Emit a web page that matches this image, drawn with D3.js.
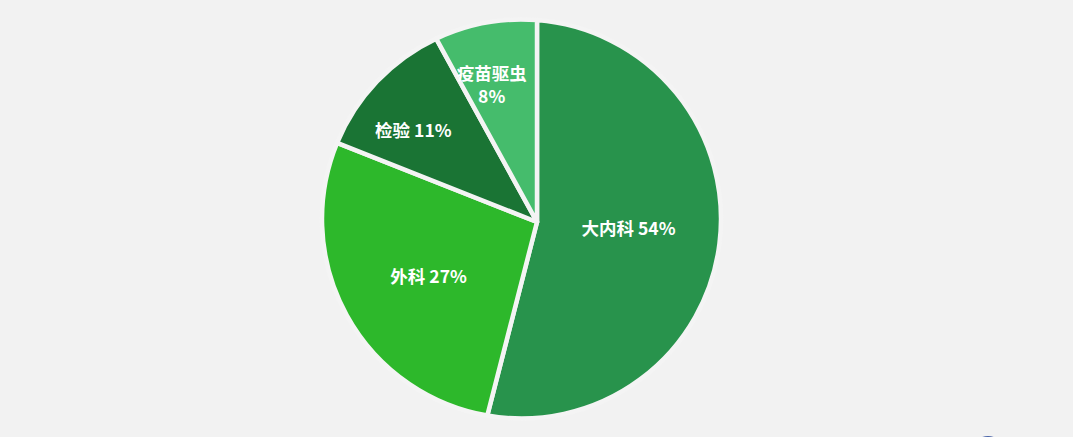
<!DOCTYPE html>
<html>
<head>
<meta charset="utf-8">
<script src="https://cdn.jsdelivr.net/npm/d3@7"></script>
<style>
  html, body { margin: 0; padding: 0; background: #f2f2f2; }
  svg { display: block; }
</style>
</head>
<body>
<svg width="1073" height="437"></svg>
<script>
// data
var categories = ['大内科', '外科', '检验', '疫苗驱虫'];
var shares = [54, 27, 11, 8];
var colors = ['#28934c', '#2db82b', '#1a7434', '#45bc6c'];

// layout: slices meet at the vertex, outer edge is a circle a bit to the left
var svg = d3.select('svg'),
  vertex = [537, 222],
  rim = { cx: 521.5, cy: 219, r: 199.5 },
  labelDist = [0.46, 0.61, 0.77, 0.72],
  labelTurn = [-3, 0, -5, -4]; // degrees

var pie = d3.pie().sort(null).value(function(d) { return d; });
var arcs = pie(shares);

// where a ray from the vertex at angle a (clockwise from top) meets the rim
function hit(a) {
  var dx = Math.sin(a), dy = -Math.cos(a);
  var ox = vertex[0] - rim.cx, oy = vertex[1] - rim.cy;
  var b = dx * ox + dy * oy;
  var c = ox * ox + oy * oy - rim.r * rim.r;
  var t = -b + Math.sqrt(b * b - c);
  return [vertex[0] + t * dx, vertex[1] + t * dy];
}

function rimAngle(p) {
  return Math.atan2(p[0] - rim.cx, -(p[1] - rim.cy));
}

function slicePath(d) {
  var p0 = hit(d.startAngle), p1 = hit(d.endAngle);
  var diff = (rimAngle(p1) - rimAngle(p0) + 4 * Math.PI) % (2 * Math.PI);
  return 'M' + vertex[0] + ',' + vertex[1] +
    'L' + p0[0] + ',' + p0[1] +
    'A' + rim.r + ',' + rim.r + ' 0 ' + (diff > Math.PI ? 1 : 0) + ' 1 ' + p1[0] + ',' + p1[1] +
    'Z';
}

svg.append('g')
  .selectAll('path')
  .data(arcs)
  .enter()
  .append('path')
  .attr('d', slicePath)
  .attr('fill', function(d, i) { return colors[i]; })
  .attr('stroke', '#f4f4f4')
  .attr('stroke-width', 4.5)
  .attr('stroke-linejoin', 'round');

var labels = svg.append('g')
  .attr('font-family', '"Noto Sans CJK SC", "Noto Sans", sans-serif')
  .attr('font-size', 17.5)
  .attr('font-weight', 'bold')
  .attr('fill', '#ffffff')
  .attr('text-anchor', 'middle')
  .selectAll('text')
  .data(arcs)
  .enter()
  .append('text')
  .attr('transform', function(d, i) {
    var a = (d.startAngle + d.endAngle) / 2 + labelTurn[i] * Math.PI / 180,
      k = labelDist[i] * rim.r;
    return 'translate(' + (vertex[0] + k * Math.sin(a)) + ',' + (vertex[1] - k * Math.cos(a)) + ')';
  });

labels.each(function(d, i) {
  var t = d3.select(this);
  if (categories[i].length > 3) {
    t.append('tspan').attr('x', 0).attr('dy', '-0.3em').text(categories[i]);
    t.append('tspan').attr('x', 0).attr('dy', '1.3em').text(shares[i] + '%');
  } else {
    t.append('tspan').attr('x', 0).attr('dy', '0.35em').text(categories[i] + ' ' + shares[i] + '%');
  }
});

// corner badge peeking in at the bottom edge
svg.append('circle')
  .attr('cx', 988)
  .attr('cy', 452)
  .attr('r', 16)
  .attr('fill', '#4a64a8');
</script>
</body>
</html>
